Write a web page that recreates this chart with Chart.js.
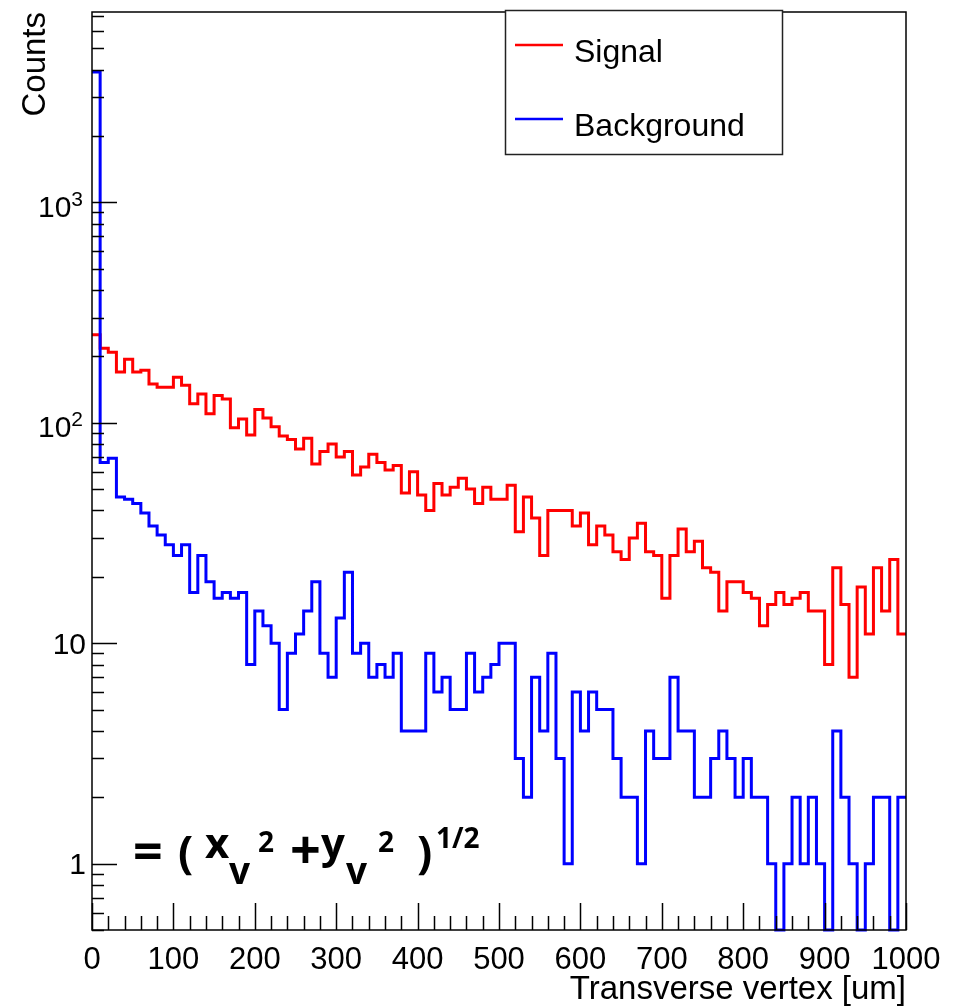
<!DOCTYPE html>
<html><head><meta charset="utf-8">
<script src="https://cdn.jsdelivr.net/npm/chart.js@4/dist/chart.umd.min.js"></script>
<style>
html,body{margin:0;padding:0;background:#fff;}
#wrap{position:relative;width:957px;height:1007px;overflow:hidden;}
#c{position:absolute;left:0;top:0;}
#ov{position:absolute;left:0;top:0;pointer-events:none;}
</style></head><body>
<div id="wrap"><canvas id="c" width="957" height="1007"></canvas>
<svg id="ov" width="957" height="1007" xmlns="http://www.w3.org/2000/svg"></svg></div>
<script>
// ---- data ----
const X_MIN = 0, X_MAX = 1000, BIN_WIDTH = 10;
const Y_MIN = 0.5, Y_MAX = 7300;
const seriesNames = ['Signal', 'Background'];
const signal = [251,218,209,170,194,170,173,150,145,145,
                161,148,122,135,110,133,128,95,104,88,
                115,105,96,87,84,76,85,65,74,80,
                70,74,58,63,72,66,61,64,48,60,
                47,40,53,47,51,56,50,43,51,45,
                45,52,32,46,37,25,40,40,40,34,
                39,28,34,31,26,24,30,35,26,25,
                16,25,33,26,29,22,21,14,19,19,
                17,16,12,15,17,15,16,17,14,14,
                8,22,15,7,18,11,22,14,24,11];
const background = [3900,66,69,46,45,43,39,34,31,28,
                    25,28,17,25,19,16,17,16,17,8,
                    14,12,10,5,9,11,14,19,9,7,
                    13,21,9,10,7,8,7,9,4,4,
                    4,9,6,7,5,5,9,6,7,8,
                    10,10,3,2,7,4,9,3,1,6,
                    4,6,5,5,3,2,2,1,4,3,
                    3,7,4,4,2,2,3,4,3,2,
                    3,2,2,1,0,1,2,1,2,1,
                    0,4,2,1,0,1,2,2,0,2];
const yTickValues = [1, 10, 100, 1000];
const yTickLabels = [['1', ''], ['10', ''], ['10', '2'], ['10', '3']]; // [base, exponent]
const xTitle = 'Transverse vertex [um]';
const yTitle = 'Counts';

// histogram outline points: one point at each bin's lower edge, plus the upper edge of the last bin
function toSteps(vals) {
  const pts = vals.map((v, i) => ({x: X_MIN + i * BIN_WIDTH, y: v > 0 ? v : Y_MIN}));
  const last = vals[vals.length - 1];
  pts.push({x: X_MIN + vals.length * BIN_WIDTH, y: last > 0 ? last : Y_MIN});
  return pts;
}

const SANS = "'Liberation Sans', Arial, Helvetica, sans-serif";
Chart.defaults.font.family = SANS;
Chart.defaults.color = '#000';

const framePlugin = {
  id: 'rootFrame',
  afterDraw(chart) {
    const ctx = chart.ctx;
    const {left, right, top, bottom} = chart.chartArea;
    const xs = chart.scales.x, ys = chart.scales.y;
    ctx.save();
    ctx.strokeStyle = '#000';
    ctx.lineWidth = 1.5;
    ctx.beginPath();
    for (let v = X_MIN; v <= X_MAX; v += 20) {
      const px = Math.round(xs.getPixelForValue(v)) + 0.5;
      const len = (v % 100 === 0) ? 27 : 14;
      ctx.moveTo(px, bottom); ctx.lineTo(px, bottom - len);
    }
    for (let e = -1; e <= 4; e++) {
      for (let m = 1; m <= 9; m++) {
        const v = m * Math.pow(10, e);
        if (v < Y_MIN || v > Y_MAX) continue;
        const py = Math.round(ys.getPixelForValue(v)) + 0.5;
        const len = (m === 1) ? 25 : 12;
        ctx.moveTo(left, py); ctx.lineTo(left + len, py);
      }
    }
    ctx.stroke();
    ctx.strokeRect(left, top, right - left, bottom - top);
    // y tick labels (ROOT style powers of ten)
    ctx.fillStyle = '#000';
    ctx.textBaseline = 'alphabetic';
    ys.ticks.forEach(t => {
      const i = yTickValues.indexOf(t.value);
      if (i < 0) return;
      const [base, exp] = yTickLabels[i];
      const py = ys.getPixelForValue(t.value);
      if (!exp) {
        ctx.font = '30px ' + SANS;
        ctx.textAlign = 'right';
        ctx.fillText(base, 86, py + 10.7);
      } else {
        ctx.font = '21px ' + SANS;
        const we = ctx.measureText(exp).width;
        ctx.textAlign = 'left';
        const ex = 83 - we;
        ctx.fillText(exp, ex, py + 3.5);
        ctx.font = '30px ' + SANS;
        ctx.textAlign = 'right';
        ctx.fillText(base, ex, py + 14.5);
      }
    });
    ctx.restore();
  }
};

const chart = new Chart(document.getElementById('c'), {
  type: 'line',
  data: {
    datasets: [
      {label: seriesNames[0], data: toSteps(signal), borderColor: '#ff0000', borderWidth: 3,
       stepped: 'before', pointRadius: 0, fill: false, order: 1, clip: 4},
      {label: seriesNames[1], data: toSteps(background), borderColor: '#0000ff', borderWidth: 3,
       stepped: 'before', pointRadius: 0, fill: false, order: 0, clip: 4}
    ]
  },
  options: {
    responsive: false, animation: false,
    layout: {padding: {top: 12, right: 51, left: 0, bottom: 0}},
    plugins: {legend: {display: false}, tooltip: {enabled: false}},
    scales: {
      x: {
        type: 'linear', min: X_MIN, max: X_MAX, bounds: 'data',
        grid: {display: false, drawTicks: false}, border: {display: false},
        ticks: {stepSize: 100, autoSkip: false, maxRotation: 0, padding: 12, color: '#000', font: {size: 31},
                callback(v) { return String(v); }},
        title: {display: true, text: xTitle, align: 'end', color: '#000', font: {size: 33}, padding: {top: 0, bottom: -3}},
        afterFit(s) { s.height = 77; s.paddingLeft = 0; s.paddingRight = 0; }
      },
      y: {
        type: 'logarithmic', min: Y_MIN, max: Y_MAX, bounds: 'data',
        grid: {display: false, drawTicks: false}, border: {display: false},
        afterBuildTicks(s) { s.ticks = yTickValues.map(v => ({value: v})); },
        ticks: {display: false},
        title: {display: true, text: yTitle, align: 'end', color: '#000', font: {size: 33}, padding: {top: 16, bottom: 0}},
        afterFit(s) { s.width = 92; s.paddingTop = 0; s.paddingBottom = 0; }
      }
    }
  },
  plugins: [framePlugin]
});

// ---- overlay: legend and formula (SVG text) ----
const NS = 'http://www.w3.org/2000/svg';
const svg = document.getElementById('ov');
function el(tag, attrs, text) {
  const e = document.createElementNS(NS, tag);
  for (const k in attrs) e.setAttribute(k, attrs[k]);
  if (text !== undefined) e.textContent = text;
  svg.appendChild(e);
  return e;
}
el('rect', {x: 505.5, y: 10.5, width: 277, height: 144, fill: '#fff', stroke: '#222', 'stroke-width': 1.5});
const legendRows = [45, 119];
chart.data.datasets.forEach((ds, i) => {
  const y = legendRows[i];
  el('line', {x1: 515, x2: 563, y1: y, y2: y, stroke: ds.borderColor, 'stroke-width': 2.5});
  el('text', {x: 574, y: y + 17, 'font-family': SANS, 'font-size': 32, fill: '#000'}, ds.label);
});
const F = "'Open Sans', 'Noto Sans', sans-serif";
const pieces = [
  ['=', 133, 870, 52], ['(', 178, 868, 45], ['x', 205, 858, 42], ['v', 229, 884, 37],
  ['2', 258, 852, 28], ['+', 290, 869, 54], ['y', 321, 858, 42], ['v', 346, 884, 37],
  ['2', 378, 852, 28], [')', 417, 868, 45], ['1/2', 436, 848, 28]
];
pieces.forEach(p => el('text', {x: p[1], y: p[2], 'font-family': F, 'font-weight': 'bold', 'font-size': p[3], fill: '#000'}, p[0]));
</script>
</body></html>
